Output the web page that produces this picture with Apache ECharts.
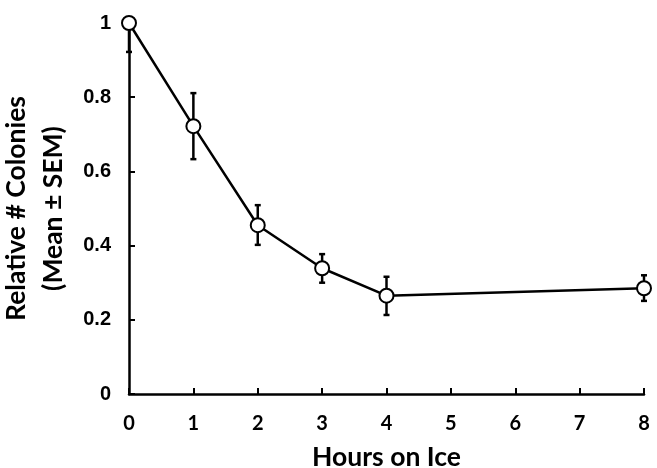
<!DOCTYPE html>
<html><head><meta charset="utf-8">
<script src="https://cdn.jsdelivr.net/npm/echarts@6/dist/echarts.min.js"></script>
<style>html,body{margin:0;padding:0;background:#fff}#c{width:657px;height:468px}</style>
</head><body><div id="c"></div>
<script>
const hours = [0, 1, 2, 3, 4, 8];
const means = [1.0, 0.722, 0.455, 0.339, 0.265, 0.285];
const lowerErr = [0.922, 0.633, 0.402, 0.300, 0.213, 0.251];
const upperErr = [1.0, 0.811, 0.509, 0.377, 0.316, 0.320];
const xTicks = [0, 1, 2, 3, 4, 5, 6, 7, 8];
const yTicks = [0, 0.2, 0.4, 0.6, 0.8, 1];

const chart = echarts.init(document.getElementById('c'));
const errData = hours.map((h, i) => [h, lowerErr[i], upperErr[i]]);
chart.setOption({
  animation: false,
  grid: {left: 129, right: 13, top: 23, bottom: 74, containLabel: false, outerBoundsMode: 'none'},
  xAxis: {
    type: 'value', min: xTicks[0], max: xTicks[xTicks.length - 1], interval: 1,
    name: 'Hours on Ice', nameLocation: 'middle', nameGap: 50,
    nameTextStyle: {fontFamily: 'Lato', fontWeight: 'bold', fontSize: 26.5, color: '#000'},
    axisLine: {show: true, lineStyle: {color: '#000', width: 2.5}},
    axisTick: {show: true, inside: true, length: 6, lineStyle: {color: '#000', width: 2}},
    axisLabel: {fontFamily: 'Lato', fontWeight: 'bold', fontSize: 20, color: '#000', margin: 20},
    splitLine: {show: false}
  },
  yAxis: {
    type: 'value', min: yTicks[0], max: yTicks[yTicks.length - 1], interval: 0.2,
    name: 'Relative # Colonies\n(Mean ± SEM)', nameLocation: 'middle', nameGap: 50, nameRotate: 90,
    nameTextStyle: {fontFamily: 'Lato', fontWeight: 'bold', fontSize: 26.5, color: '#000', lineHeight: 37},
    axisLine: {show: true, lineStyle: {color: '#000', width: 2.5}},
    axisTick: {show: true, inside: true, length: 6, lineStyle: {color: '#000', width: 2}},
    axisLabel: {fontFamily: 'Liberation Sans', fontWeight: 'bold', fontSize: 20, color: '#000', margin: 18,
      formatter: v => String(parseFloat(v.toFixed(1)))},
    splitLine: {show: false}
  },
  series: [
    {
      type: 'custom',
      data: errData,
      z: 3,
      renderItem: function (params, api) {
        const x = api.value(0);
        const lo = api.coord([x, api.value(1)]);
        const hi = api.coord([x, api.value(2)]);
        const w = 3;
        const style = {stroke: '#000', lineWidth: 2.5};
        return {type: 'group', children: [
          {type: 'line', shape: {x1: lo[0], y1: lo[1], x2: hi[0], y2: hi[1]}, style},
          {type: 'line', shape: {x1: lo[0] - w, y1: lo[1], x2: lo[0] + w, y2: lo[1]}, style},
          {type: 'line', shape: {x1: hi[0] - w, y1: hi[1], x2: hi[0] + w, y2: hi[1]}, style}
        ]};
      }
    },
    {
      type: 'line',
      data: hours.map((h, i) => [h, means[i]]),
      z: 5,
      symbol: 'circle', symbolSize: 14,
      lineStyle: {color: '#000', width: 2.5},
      itemStyle: {color: '#fff', borderColor: '#000', borderWidth: 2},
      clip: false
    }
  ]
});
</script></body></html>
